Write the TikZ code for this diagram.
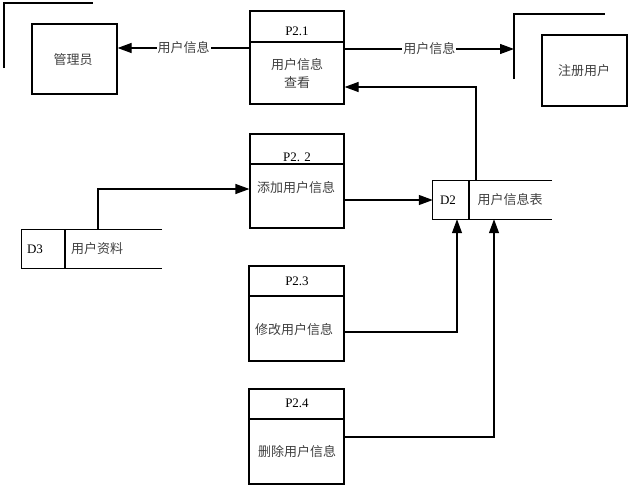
\documentclass[tikz,border=0pt]{standalone}
\usepackage{fontspec}
\setmainfont{Liberation Serif}
\newfontfamily\cjk{Noto Sans CJK SC}
\usetikzlibrary{arrows.meta}
\begin{document}
\begin{tikzpicture}[x=1pt,y=-1pt,
  lw/.style={line width=1.2pt},
  boxnode/.style={draw,lw,inner sep=0pt},
  zh/.style={font=\cjk\fontsize{13}{18}\selectfont,text=black!75,inner sep=1pt},
  en/.style={font=\fontsize{13}{15}\selectfont,inner sep=1pt},
  arr/.style={lw,-{Triangle[length=14pt,width=10pt]}},
  flow/.style={lw}]
\useasboundingbox (0,0) rectangle (631,487);
% external entities
\node[boxnode,minimum width=85,minimum height=70] (adm) at (74.5,59) {};
\node[zh] (admt) at (73,60) {管理员};
\draw[lw] (4,68) -- (4,3) -- (93,3);
\node[boxnode,minimum width=85,minimum height=71] (reg) at (584.5,70.5) {};
\node[zh] (regt) at (584,71) {注册用户};
\draw[lw] (514,79) -- (514,14) -- (605,14);
% processes
\node[boxnode,minimum width=94,minimum height=93] (p1) at (297,57.5) {};
\draw[lw] (p1.west |- 0,42) -- (p1.east |- 0,42);
\node[en] (p1id) at (297,31) {P2.1};
\node[zh,align=center] (p1t) at (297,74) {用户信息\\查看};
\node[boxnode,minimum width=94,minimum height=94] (p2) at (297,181) {};
\draw[lw] (p2.west |- 0,164) -- (p2.east |- 0,164);
\node[en] (p2id) at (297,157) {P2. 2};
\node[zh] (p2t) at (296,188) {添加用户信息};
\node[boxnode,minimum width=95,minimum height=95] (p3) at (296.5,313.5) {};
\draw[lw] (p3.west |- 0,296) -- (p3.east |- 0,296);
\node[en] (p3id) at (297,281) {P2.3};
\node[zh] (p3t) at (294,330) {修改用户信息};
\node[boxnode,minimum width=95,minimum height=95] (p4) at (296.5,436.5) {};
\draw[lw] (p4.west |- 0,419) -- (p4.east |- 0,419);
\node[en] (p4id) at (297,403) {P2.4};
\node[zh] (p4t) at (297,452) {删除用户信息};
% data stores
\node[inner sep=0pt,minimum width=119,minimum height=38] (d2) at (492.5,200) {};
\draw[lw] (d2.north east) -- (d2.north west) -- (d2.south west) -- (d2.south east);
\draw[lw] (d2.north -| 469,0) -- (d2.south -| 469,0);
\node[en] (d2id) at (448,200) {D2};
\node[zh] (d2t) at (510,200) {用户信息表};
\node[inner sep=0pt,minimum width=140,minimum height=38] (d3) at (92,249) {};
\draw[lw] (d3.north east) -- (d3.north west) -- (d3.south west) -- (d3.south east);
\draw[lw] (d3.north -| 65,0) -- (d3.south -| 65,0);
\node[en] (d3id) at (35,249) {D3};
\node[zh] (d3t) at (97,249) {用户资料};
% flows
\draw[arr] (p1.west |- 0,48) -- node[zh,fill=white,inner sep=1pt] {用户信息} (adm.east |- 0,48);
\draw[arr] (p1.east |- 0,49) -- node[zh,fill=white,inner sep=1pt] {用户信息} (514,49);
\draw[arr] (d2.north -| 476,0) -- (476,87) -- (p1.east |- 0,87);
\draw[arr] (d3.north -| 98,0) -- (98,189) -- (p2.west |- 0,189);
\draw[arr] (p2.east |- d2.west) -- (d2.west);
\draw[arr] (p3.east |- 0,332) -- (457,332) -- (d2.south -| 457,0);
\draw[arr] (p4.east |- 0,437) -- (494,437) -- (d2.south -| 494,0);
\end{tikzpicture}
\end{document}
